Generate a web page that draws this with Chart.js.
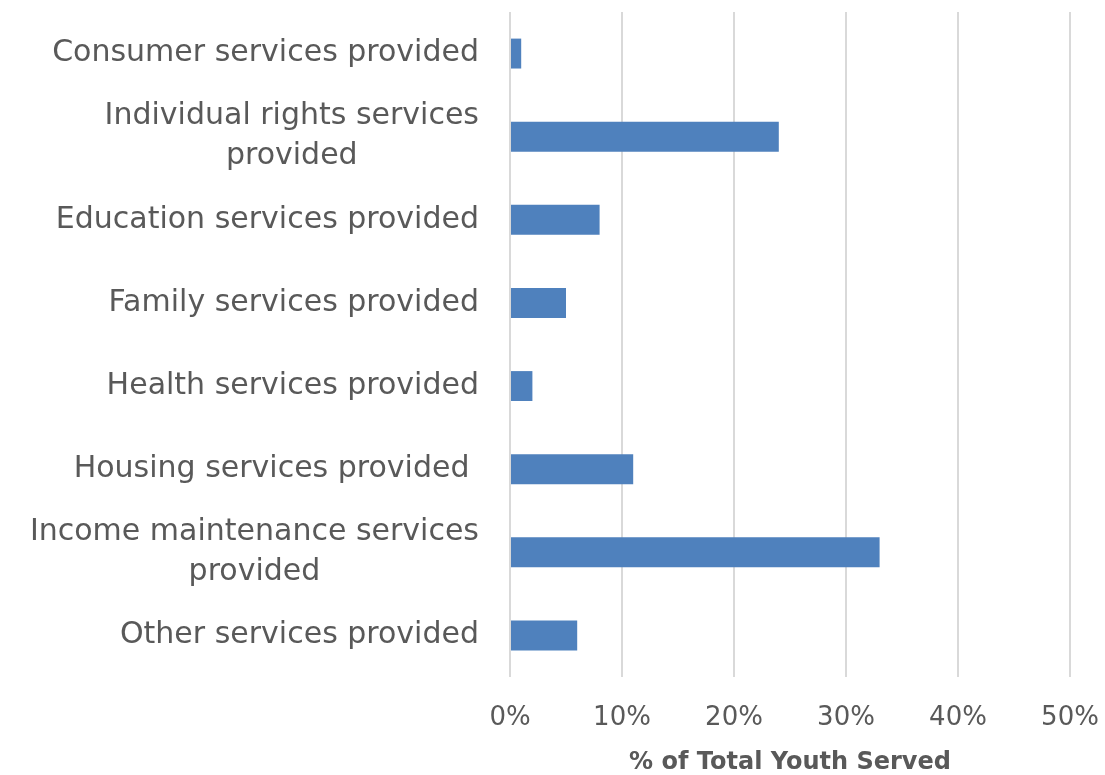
<!DOCTYPE html>
<html>
<head>
<meta charset="utf-8">
<title>Services provided to youth</title>
<script src="https://cdn.jsdelivr.net/npm/chart.js@4/dist/chart.umd.min.js"></script>
<style>
  html, body { margin: 0; padding: 0; background: #ffffff; }
  #wrap { width: 1105px; height: 775px; }
</style>
</head>
<body>
<div id="wrap"><canvas id="chart" width="1105" height="775"></canvas></div>
<script>
// Service categories (arrays = wrapped label lines)
const categories = [
  ["Consumer services provided"],
  ["Individual rights services", "provided"],
  ["Education services provided"],
  ["Family services provided"],
  ["Health services provided"],
  ["Housing services provided "],
  ["Income maintenance services", "provided"],
  ["Other services provided"]
];

// % of total youth served
const percentServed = [1, 24, 8, 5, 2, 11, 33, 6];

const axisMin = 0;
const axisMax = 50;
const axisStep = 10;
const axisTitle = "% of Total Youth Served";

const FONT = "'DejaVu Sans', sans-serif";
const TEXT_COLOR = "#595959";

// Category labels: block right-aligned beside the plot, lines centred within the block
const categoryLabels = {
  id: "categoryLabels",
  afterDraw(chart) {
    const ctx = chart.ctx;
    const yScale = chart.scales.y;
    const right = chart.chartArea.left - 31;
    const lineHeight = 40;
    ctx.save();
    ctx.font = "30px " + FONT;
    ctx.fillStyle = TEXT_COLOR;
    ctx.textAlign = "center";
    ctx.textBaseline = "middle";
    chart.data.labels.forEach((lines, i) => {
      const yc = yScale.getPixelForValue(i);
      const widest = Math.max(...lines.map((l) => ctx.measureText(l).width));
      const xc = right - widest / 2;
      const y0 = yc - ((lines.length - 1) * lineHeight) / 2;
      lines.forEach((line, j) => {
        ctx.fillText(line, xc, y0 + j * lineHeight);
      });
    });
    ctx.restore();
  }
};

new Chart(document.getElementById("chart"), {
  type: "bar",
  data: {
    labels: categories,
    datasets: [
      {
        data: percentServed,
        backgroundColor: "#4F81BD",
        barPercentage: 0.6,
        categoryPercentage: 0.6
      }
    ]
  },
  options: {
    indexAxis: "y",
    responsive: false,
    animation: false,
    layout: { padding: { top: 12, right: 35, left: 0, bottom: 0 } },
    plugins: {
      legend: { display: false },
      tooltip: { enabled: false }
    },
    scales: {
      y: {
        grid: { display: false },
        border: { display: false },
        ticks: { display: false },
        afterFit: (scale) => {
          scale.width = 510;
        }
      },
      x: {
        min: axisMin,
        max: axisMax,
        grid: { color: "#D9D9D9", lineWidth: 2, drawTicks: false },
        border: { display: false },
        ticks: {
          stepSize: axisStep,
          padding: 26,
          color: TEXT_COLOR,
          font: { family: FONT, size: 26 },
          callback: (v) => v + "%"
        },
        title: {
          display: true,
          text: axisTitle,
          color: TEXT_COLOR,
          font: { family: FONT, size: 24, weight: "bold", lineHeight: 1 },
          padding: { top: 0, bottom: 0 }
        },
        afterFit: (scale) => {
          // fixed axis band; end labels may hang into the outer margins
          scale.height = 98;
          scale.paddingLeft = 0;
          scale.paddingRight = 0;
        }
      }
    }
  },
  plugins: [categoryLabels]
});
</script>
</body>
</html>
